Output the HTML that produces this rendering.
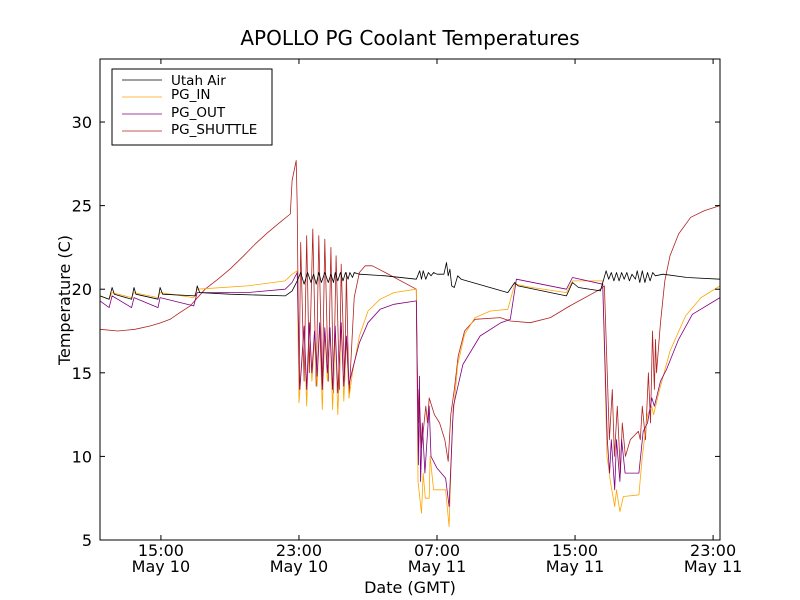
<!DOCTYPE html>
<html><head><meta charset="utf-8"><style>
body{margin:0;background:#fff;}
svg{display:block;font-family:"DejaVu Sans","Liberation Sans",sans-serif;}
</style></head><body>
<svg id="chart" width="800" height="600" viewBox="0 0 800 600">
<rect x="0" y="0" width="800" height="600" fill="#fff"/>
<text x="410" y="45" text-anchor="middle" font-size="20">APOLLO PG Coolant Temperatures</text>
<text x="410" y="593" text-anchor="middle" font-size="16">Date (GMT)</text>
<text x="70" y="300" text-anchor="middle" font-size="16" transform="rotate(-90 70 300)">Temperature (C)</text>
<g id="plot"></g>
<g id="axes"></g>
<g>
<rect x="112" y="69" width="160" height="76" fill="#fff" stroke="#000" stroke-width="1"/>
<line x1="122" y1="80" x2="162" y2="80" stroke="#000" stroke-width="0.8"/><text x="171" y="85" font-size="13.5">Utah Air</text>
<line x1="122" y1="97" x2="162" y2="97" stroke="#FFA500" stroke-width="0.8"/><text x="171" y="99" font-size="13.5">PG_IN</text>
<line x1="122" y1="114" x2="162" y2="114" stroke="#800080" stroke-width="0.8"/><text x="171" y="117" font-size="13.5">PG_OUT</text>
<line x1="122" y1="131" x2="162" y2="131" stroke="#B22222" stroke-width="0.8"/><text x="171" y="134" font-size="13.5">PG_SHUTTLE</text>
</g>
</svg>
<script>
// hours since May 10 00:00 GMT
const airTimes=[11.47,12.0,12.17,12.3,13.3,13.44,13.55,14.83,14.95,15.1,17.0,17.1,17.25,19,22.2,22.6,22.9,23.1,23.3,23.5,23.7,23.85,24.0,24.15,24.3,24.5,24.7,24.85,25.0,25.1,25.25,25.4,25.55,25.7,25.85,25.95,26.1,26.2,26.5,28,29.8,30.0,30.1,30.2,30.35,30.5,30.65,30.8,31.0,31.2,31.4,31.55,31.65,31.75,31.85,32.0,32.2,32.4,35.1,35.5,35.7,38.5,38.85,39.2,40.47,40.8,40.95,41.1,41.25,41.4,41.55,41.7,41.85,42.0,42.15,42.3,42.5,42.6,42.75,42.9,43.05,43.2,43.35,43.5,43.65,44.1,45.5,47.4];
const airTemps=[19.6,19.4,20.1,19.7,19.4,20.1,19.7,19.4,20.1,19.7,19.6,20.2,19.8,19.7,19.6,19.9,20.5,21.0,20.3,21.0,20.4,20.9,20.3,21.0,20.4,21.0,20.4,20.9,20.4,21.0,20.5,21.0,20.5,21.0,20.6,21.0,20.7,21.0,20.9,20.8,20.6,21.1,20.6,21.1,20.6,21.0,20.8,21.0,20.9,20.9,20.9,21.6,20.8,21.2,20.2,20.1,20.8,20.6,19.8,20.4,20.2,19.6,20.4,20.1,19.9,21.1,20.6,21.0,20.5,21.0,20.5,21.0,20.6,21.0,20.5,20.9,20.6,21.1,20.4,21.1,20.4,21.0,20.5,21.0,20.8,20.9,20.7,20.6];
const inTimes=[11.47,12.0,12.17,13.3,13.44,14.83,14.95,16.9,17.1,20,22.2,22.6,22.9,23.0,23.3,23.45,23.6,23.75,23.9,24.05,24.2,24.35,24.5,24.65,24.8,24.95,25.1,25.25,25.45,25.6,25.75,25.9,26.1,26.5,27,27.7,28.5,29.8,29.9,30.1,30.2,30.32,30.55,30.6,30.8,31.5,31.7,31.9,32.2,32.6,33.2,34.1,35.1,35.5,36.5,38.5,38.85,40.6,40.85,41.05,41.3,41.4,41.6,41.8,42.7,42.9,43.2,43.45,43.55,43.9,44.5,45.4,46.3,47.4];
const inTemps=[19.6,19.4,19.8,19.5,19.8,19.5,19.8,19.5,20.0,20.2,20.5,20.9,21.1,13.2,17.5,13.0,18,14.5,17,14.2,17.8,12.8,17.5,14.5,17.5,12.8,17.5,12.5,17.8,13.3,17,13.5,15,17.2,18.7,19.4,19.8,20.0,8.5,6.6,9.0,7.5,7.5,10,8,8,5.8,12,15.5,17.3,18.3,18.7,18.8,20.3,20.1,19.8,20.5,20.5,10,8.5,7,8,6.7,7.6,7.7,10,12.5,13,12.5,14,16.3,18.4,19.5,20.2];
const outTimes=[11.47,12.0,12.17,13.3,13.44,14.83,14.95,16.9,17.1,20,22.2,22.6,22.9,23.05,23.3,23.45,23.6,23.75,23.9,24.05,24.2,24.35,24.5,24.65,24.8,24.95,25.1,25.25,25.45,25.6,25.75,25.9,26.1,26.5,27,27.7,28.5,29.8,29.92,29.98,30.05,30.15,30.3,30.55,30.65,31.0,31.5,31.7,31.95,32.5,33.5,34.7,35.25,35.6,38.5,38.85,40.6,40.87,41.0,41.1,41.3,41.4,41.6,41.7,41.9,42.7,42.95,43.2,43.45,43.6,43.95,44.3,45.0,45.8,47.4];
const outTemps=[19.3,18.9,19.6,18.9,19.5,18.9,19.5,19.0,19.8,19.8,20.0,20.4,21.0,14.0,17.8,14.0,18,15,17.5,14.8,18,14,17.7,15,17.7,14,17.8,13.8,18,14.2,17.2,14.3,15.2,16.8,18.0,18.8,19.1,19.3,9.5,14.8,8.5,12,9,13,10,9.3,8.7,7.0,13,15.5,17.2,18,18.2,20.6,20.0,20.7,20.3,11,9,11,8,11,8.5,11,9,9,11.5,12,13.5,13,14.5,15.2,17,18.5,19.5];
const shTimes=[11.47,12.5,13.5,14.37,15.0,15.53,16.1,16.7,17.56,18.3,19.0,19.8,20.46,21.2,21.9,22.5,22.6,22.84,22.9,23.0,23.1,23.3,23.45,23.6,23.8,24.0,24.15,24.35,24.5,24.7,24.85,25.0,25.15,25.35,25.45,25.65,25.75,25.9,26.2,26.5,26.84,27.25,28.0,29.8,29.9,29.95,30.1,30.35,30.45,30.55,30.85,31.15,31.45,31.65,31.8,32.0,32.23,32.6,33.2,34.67,35.25,36.4,37.57,38.7,40.47,40.7,40.99,41.16,41.28,41.45,41.63,41.74,41.92,42.2,42.67,42.78,42.9,43.08,43.25,43.37,43.49,43.6,43.66,43.72,43.95,44.2,44.5,45.0,45.7,46.5,47.4];
const shTemps=[17.6,17.5,17.6,17.8,18.0,18.2,18.6,19.0,20.0,20.6,21.2,22.0,22.7,23.4,24.0,24.5,26.5,27.7,25,14,22.8,14.5,23.2,15,23.6,14.2,23.2,14,23.0,14.5,22.5,13.8,22.0,14,21.5,14.5,21.0,13.5,19.5,21.0,21.4,21.4,21.0,20.0,12,14,10.5,13,12,13.5,12.5,12,11,9.7,12.5,14,16,17.5,18.2,18.3,18.1,18.0,18.3,19.0,20.0,20.2,11,14,10,13,9,12,10,11,11.5,11,13,11,15,12,17.5,14,17,15,18,20.5,22,23.3,24.3,24.7,25.0];
const yTicks=[5,10,15,20,25,30];
const xTicks=[15,23,31,39,47];
const xTickTimes=["15:00","23:00","07:00","15:00","23:00"];
const xTickDates=["May 10","May 10","May 11","May 11","May 11"];

const L=100,R=720,T=59,B=540,xmin=11.47,xmax=47.4,ymin=5,ymax=33.77;
const sx=h=>L+(h-xmin)/(xmax-xmin)*(R-L);
const sy=v=>B-(v-ymin)/(ymax-ymin)*(B-T);
const NS="http://www.w3.org/2000/svg";
const plot=document.getElementById('plot'),axes=document.getElementById('axes');
function line(ts,vs,color,name){
  const p=document.createElementNS(NS,'polyline');
  p.setAttribute('points',ts.map((t,i)=>sx(t).toFixed(1)+','+sy(vs[i]).toFixed(1)).join(' '));
  p.setAttribute('fill','none');p.setAttribute('stroke',color);p.setAttribute('stroke-width','0.8');
  p.setAttribute('stroke-linejoin','round');
  
  
  plot.appendChild(p);
}
line(shTimes,shTemps,'#B22222','pg-shuttle-line');
line(inTimes,inTemps,'#FFA500','pg-in-line');
line(outTimes,outTemps,'#800080','pg-out-line');
line(airTimes,airTemps,'#000000','utah-air-line');
function el(tag,attrs,txt){const e=document.createElementNS(NS,tag);for(const k in attrs)e.setAttribute(k,attrs[k]);if(txt!==undefined)e.textContent=txt;axes.appendChild(e);return e;}
const frame=el('rect',{x:L,y:T,width:R-L,height:B-T,fill:'none',stroke:'#000','stroke-width':1});


yTicks.forEach(v=>{
  const y=sy(v);
  el('line',{x1:L,y1:y,x2:L+5,y2:y,stroke:'#000'});
  el('line',{x1:R,y1:y,x2:R-5,y2:y,stroke:'#000'});
  const t=el('text',{x:L-8,y:y+6,'text-anchor':'end','font-size':16},String(v));
  
  
});
xTicks.forEach((h,i)=>{
  const x=sx(h);
  el('line',{x1:x,y1:B,x2:x,y2:B-5,stroke:'#000'});
  el('line',{x1:x,y1:T,x2:x,y2:T+5,stroke:'#000'});
  const t=el('text',{x:x,y:556,'text-anchor':'middle','font-size':16},xTickTimes[i]);
  
  
  const d=el('text',{x:x,y:572,'text-anchor':'middle','font-size':16},xTickDates[i]);
  
  
});
</script>
</body></html>
